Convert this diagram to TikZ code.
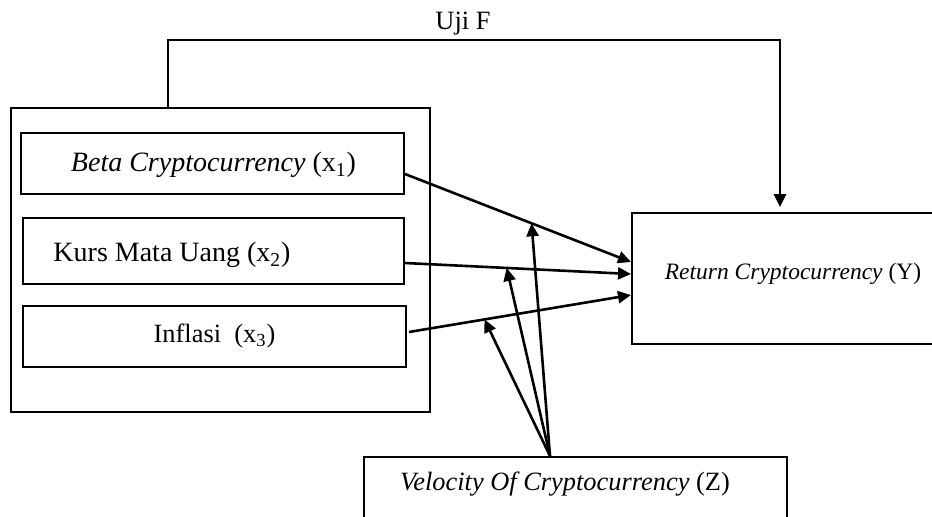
\documentclass[tikz,border=0pt]{standalone}
\usepackage{fontspec}
\setmainfont{Liberation Serif}
\usetikzlibrary{arrows.meta,calc}

\tikzset{
  box/.style={draw, line width=1pt, inner sep=0pt},
  lbl/.style={font=\fontsize{13.2pt}{15pt}\selectfont, inner sep=0pt},
  big/.style={font=\fontsize{14pt}{16pt}\selectfont},
  link/.style={line width=1.3pt, -{Triangle[length=6.5pt,width=6pt]}},
}

\begin{document}
\begin{tikzpicture}[x=0.5pt, y=-0.5pt]
  \useasboundingbox (0,0) rectangle (932,516);
  \clip (0,0) rectangle (932,516);

  % group of independent variables
  \node[box, minimum width=419*0.5pt, minimum height=304*0.5pt] (grp) at (220.5,260) {};
  \node[box, minimum width=383*0.5pt, minimum height=61*0.5pt] (beta) at (212.5,163.5) {};
  \node[lbl, big] (betaT) at (213.5,165)
    {\textit{Beta Cryptocurrency} (x\textsubscript{1})};
  \node[box, minimum width=381*0.5pt, minimum height=66*0.5pt] (kurs) at (213.5,251) {};
  \node[lbl, big] (kursT) at (172,255) {Kurs Mata Uang (x\textsubscript{2})};
  \node[box, lbl, minimum width=383*0.5pt, minimum height=61*0.5pt] (infl) at (214.5,336.5)
    {Inflasi\ \ (x\textsubscript{3})};

  % dependent variable
  \node[box, minimum width=328*0.5pt, minimum height=131*0.5pt] (ret) at (796,278.5) {};
  \node[lbl, font=\fontsize{11.75pt}{14pt}\selectfont] (retT) at (793,274)
    {\textit{Return Cryptocurrency} (Y)};

  % moderating variable
  \node[box, minimum width=423*0.5pt, minimum height=80*0.5pt] (velo) at (575.5,497) {};
  \node[lbl] (veloT) at (565,484) {\textit{Velocity Of Cryptocurrency} (Z)};

  % simultaneous test
  \node[lbl] (uji) at (463,24) {Uji F};
  \coordinate (fTop) at (168,40);
  \draw[link, shorten >=2.5pt] (grp.north -| fTop) -- (fTop) -| ([xshift=-8pt]ret.north);

  % partial effects
  \coordinate (bS) at ([yshift=-5.25pt]beta.east);
  \coordinate (kS) at ([yshift=-6pt]kurs.east);
  \coordinate (iS) at ([xshift=1pt,yshift=2.25pt]infl.east);
  \coordinate (bE) at ([yshift=8.25pt]ret.west);
  \coordinate (kE) at ([yshift=2.25pt]ret.west);
  \coordinate (iE) at ([yshift=-8.25pt]ret.west);
  \draw[link] (bS) -- (bE);
  \draw[link] (kS) -- (kE);
  \draw[link] (iS) -- (iE);

  % moderation
  \coordinate (zO) at ([xshift=-12.75pt]velo.north);
  \coordinate (mB) at ($(bS)!0.56!(bE)$);
  \coordinate (mK) at ($(kS)!0.45!(kE)$);
  \coordinate (mI) at ($(iS)!0.34!(iE)$);
  \draw[link] (zO) -- (mB);
  \draw[link] (zO) -- (mK);
  \draw[link] (zO) -- (mI);
\end{tikzpicture}
\end{document}
